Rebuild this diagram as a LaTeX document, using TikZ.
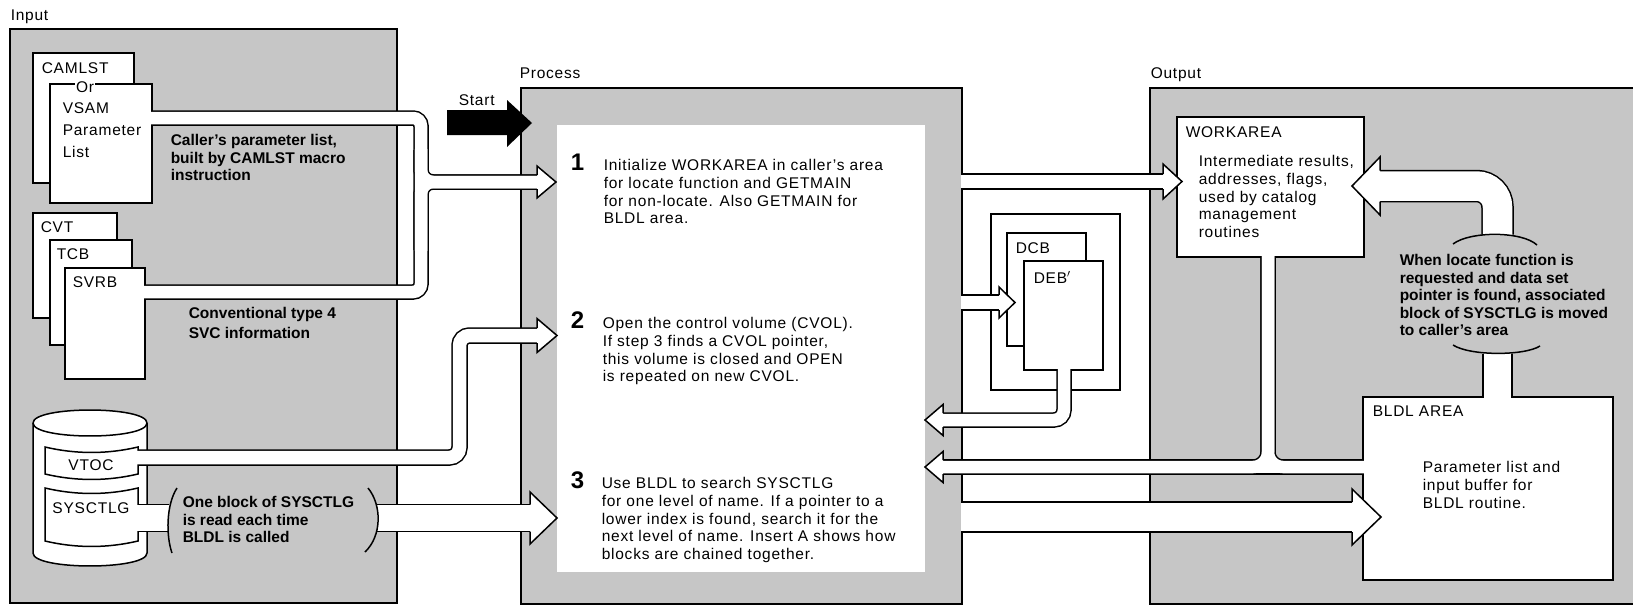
\documentclass[tikz,border=0pt]{standalone}
\usepackage{fontspec}
\setmainfont{Liberation Sans}
\newfontfamily\spc{Liberation Sans}[LetterSpace=5]
\usetikzlibrary{fit}
\definecolor{panelgray}{RGB}{198,198,198}
\newcommand\BlockHead[5]{%
  \fill[white] (#1,{#2-#4}) -- (#5,#2) -- (#1,{#2+#4}) -- cycle;
  \draw[line width=1.5pt, line join=miter] (#1,{#2-#3}) -- (#1,{#2-#4}) -- (#5,#2) -- (#1,{#2+#4}) -- (#1,{#2+#3});
}
\begin{document}
\begin{tikzpicture}[x=1pt, y=-1pt, line width=1.5pt,
  panel/.style={draw=black, fill=panelgray, line width=1.7pt, inner sep=0pt},
  paper/.style={draw=black, fill=white, line width=1.5pt, inner sep=0pt},
  lbl/.style={anchor=base west, inner sep=0pt, font=\spc\fontsize{15.5}{17.7}\selectfont},
  clbl/.style={anchor=base, inner sep=0pt, font=\spc\fontsize{15.5}{17.7}\selectfont},
  body/.style={anchor=north west, inner sep=0pt, align=left, yshift=12.39pt, font=\spc\fontsize{15.5}{17.7}\selectfont},
  note/.style={anchor=north west, inner sep=0pt, align=left, yshift=12.25pt, font=\bfseries\fontsize{15.5}{17.5}\selectfont},
  num/.style={anchor=base east, inner sep=0pt, font=\bfseries\fontsize{24}{28}\selectfont},
  pipeblack/.style={draw=black, line width={#1*1pt+1.5pt}},
  pipewhite/.style={draw=white, line width={#1*1pt-1.5pt}, shorten <=-0.9pt, shorten >=-0.9pt},
]
\fill[white] (0,0) rectangle (1633,606);
\useasboundingbox (0,0) rectangle (1633,606);

% ---------- panels ----------
\node[panel, fit={(10,29) (397,603)}] (inP) {};
\node[panel, fit={(521,88) (962,604)}] (prP) {};
\node[fill=white, inner sep=0pt, fit={(557,125) (925,572)}] (prW) {};
\node[panel, fit={(1150,88) (1648,604)}] (outP) {};

\node[lbl] (lInput) at (10,20) {Input};
\node[lbl] (lProcess) at (519,78) {Process};
\node[lbl] (lOutput) at (1150,78) {Output};
\node[lbl] (lStart) at (458,105) {Start};

% ---------- input pages ----------
\node[paper, fit={(33,53) (134,183)}] (camlst) {};
\node[paper, fit={(50,84) (152,203)}] (vsam) {};
\node[clbl, fill=white, inner sep=1.5pt] (orlbl) at (85,92) {Or};
\node[lbl] (tcam) at (41,73) {CAMLST};
\node[lbl] (tvsam) at (62,113) {VSAM};
\node[lbl] (tparam) at (62,135) {Parameter};
\node[lbl] (tlist) at (62,157) {List};

\node[paper, fit={(33,213) (117,318)}] (cvt) {};
\node[paper, fit={(50,240) (132,345)}] (tcb) {};
\node[paper, fit={(65,268) (145,379)}] (svrb) {};
\node[lbl] (tcvt) at (40,232) {CVT};
\node[lbl] (ttcb) at (56,259) {TCB};
\node[lbl] (tsvrb) at (72,287) {SVRB};

% cylinder
\draw[paper] (33,423) -- (33,553) .. controls (33,570.3) and (147,570.3) .. (147,553) -- (147,423) .. controls (147,405.7) and (33,405.7) .. (33,423) -- cycle;
\draw (33,423) .. controls (33,440.3) and (147,440.3) .. (147,423);
\draw[paper] (45,447) .. controls (76,454.3) and (107,454.3) .. (138,447) -- (138,474) .. controls (107,481.3) and (76,481.3) .. (45,474) -- cycle;
\draw[paper] (45,488) .. controls (76,495.3) and (107,495.3) .. (138,488) -- (138,541) .. controls (107,548.3) and (76,548.3) .. (45,541) -- cycle;
\node[clbl] (tvtoc) at (91,470) {VTOC};
\node[clbl] (tsysctlg) at (91,513) {SYSCTLG};

% ---------- DCB / DEB ----------
\node[paper, fit={(991,214) (1120,390)}] (dcbbox) {};
\node[paper, fit={(1007,233) (1086,346)}] (dcb) {};
\node[paper, fit={(1024,261) (1103,370)}] (deb) {};
\node[lbl] (tdcb) at (1015,253) {DCB};
\node[lbl] (tdeb) at (1033,283) {DEB$'$};

% ---------- output boxes ----------
\node[paper, fit={(1177,117) (1364,257)}] (work) {};
\node[paper, fit={(1363,397) (1613,580)}] (bldl) {};
\node[lbl] (twork) at (1185,137) {WORKAREA};
\node[lbl] (tbldl) at (1372,416) {BLDL AREA};

% ---------- pipe coordinates ----------
\coordinate (p1a) at (152,118); \coordinate (p1b) at (421,118);
\coordinate (p1c) at (421,292); \coordinate (p1d) at (145,292);
\coordinate (p1j) at (421,182); \coordinate (p1e) at (537,182);
\coordinate (p1u) at (421,150); \coordinate (p1l) at (421,250);

\coordinate (p2a) at (138,457.5); \coordinate (p2b) at (459.5,457.5);
\coordinate (p2c) at (459.5,335.5); \coordinate (p2d) at (537,335.5);

\coordinate (p3a) at (138,518); \coordinate (p3b) at (169,518);
\coordinate (p3c) at (377,518); \coordinate (p3d) at (530,518);

\coordinate (p4a) at (962,181.5); \coordinate (p4b) at (1163,181.5);
\coordinate (p5a) at (962,302.5); \coordinate (p5b) at (999,302.5);
\coordinate (p6a) at (1064,370); \coordinate (p6b) at (1064,420); \coordinate (p6c) at (943,420);
\coordinate (p7a) at (1363,467); \coordinate (p7b) at (943,467);
\coordinate (p7t) at (1268,257); \coordinate (p7j) at (1268,467);
\coordinate (p8a) at (962,517); \coordinate (p8b) at (1352,517);
\coordinate (p9a) at (1497.5,397); \coordinate (p9b) at (1497.5,353.5);
\coordinate (p10a) at (1380,186); \coordinate (p10b) at (1497.5,186); \coordinate (p10c) at (1497.5,234.5);

% ---------- pipes: black borders ----------
\draw[pipeblack=14, rounded corners=8pt] (p1a) -- (p1b) -- (p1c) -- (p1d);
\draw[pipeblack=14, rounded corners=12pt] (p1u) -- (p1j) -- (p1e);
\draw[pipeblack=14, rounded corners=12pt] (p1l) -- (p1j) -- (p1e);
\draw[pipeblack=15, rounded corners=10pt] (p2a) -- (p2b) -- (p2c) -- (p2d);
\draw[pipeblack=27] (p3a) -- (p3b);
\draw[pipeblack=27] (p3c) -- (p3d);
\draw[pipeblack=15] (p4a) -- (p4b);
\draw[pipeblack=15] (p5a) -- (p5b);
\draw[pipeblack=14, rounded corners=10pt] (p6a) -- (p6b) -- (p6c);
\draw[pipeblack=14] (p7a) -- (p7b);
\draw[pipeblack=14, rounded corners=15pt] (p7t) -- (p7j) -- (p7b);
\draw[pipeblack=14, rounded corners=15pt] (p7t) -- (p7j) -- (p7a);
\draw[pipeblack=30] (p8a) -- (p8b);
\draw[pipeblack=29] (p9a) -- (p9b);
\draw[pipeblack=31, rounded corners=21pt] (p10a) -- (p10b) -- (p10c);

% ---------- pipes: white interiors ----------
\draw[pipewhite=14, rounded corners=8pt] (p1a) -- (p1b) -- (p1c) -- (p1d);
\draw[pipewhite=14, rounded corners=12pt] (p1u) -- (p1j) -- (p1e);
\draw[pipewhite=14, rounded corners=12pt] (p1l) -- (p1j) -- (p1e);
\draw[pipewhite=15, rounded corners=10pt] (p2a) -- (p2b) -- (p2c) -- (p2d);
\draw[pipewhite=27, shorten >=0pt] (p3a) -- (p3b);
\draw[pipewhite=27, shorten <=0pt] (p3c) -- (p3d);
\draw[pipewhite=15] (p4a) -- (p4b);
\draw[pipewhite=15] (p5a) -- (p5b);
\draw[pipewhite=14, rounded corners=10pt] (p6a) -- (p6b) -- (p6c);
\draw[pipewhite=14] (p7a) -- (p7b);
\draw[pipewhite=14, rounded corners=15pt] (p7t) -- (p7j) -- (p7b);
\draw[pipewhite=14, rounded corners=15pt] (p7t) -- (p7j) -- (p7a);
\draw[pipewhite=30] (p8a) -- (p8b);
\draw[pipewhite=29] (p9a) -- (p9b);
\draw[pipewhite=31, rounded corners=21pt] (p10a) -- (p10b) -- (p10c);

% ---------- arrow heads ----------
\BlockHead{537}{182}{7}{16}{556}
\BlockHead{537}{335.5}{7.5}{17}{557}
\BlockHead{530}{518}{13.5}{26}{557}
\BlockHead{1163}{181.5}{7.5}{17.5}{1182}
\BlockHead{999}{302.5}{7.5}{15.5}{1015}
\BlockHead{943}{420}{7}{15.5}{925}
\BlockHead{943}{467}{7}{15.5}{925}
\BlockHead{1352}{517}{15}{28}{1381}
\BlockHead{1380}{186}{15.5}{29}{1352}

% ---------- brackets ----------
\draw (177,488) .. controls (166,505) and (166,536) .. (172,553);
\draw (368,488) .. controls (382,505) and (382,536) .. (365,552);
\draw (1453,244) .. controls (1470,231) and (1522,231) .. (1537,245);
\draw (1453,345) .. controls (1470,356) and (1524,356) .. (1540,346);

% ---------- texts ----------
\node[note] (ncaller) at (170,145) {\strut Caller’s parameter list,\\built by CAMLST macro\\instruction};
\node[note] (nconv) at (188,318) {\strut Conventional type 4\\[2.5pt]SVC information};
\node[note] (nblock) at (182,507) {\strut One block of SYSCTLG\\is read each time\\BLDL is called};

\node[num] (n1) at (585,170) {1};
\node[body] (s1) at (603,170) {\strut Initialize WORKAREA in caller’s area\\for locate function and GETMAIN\\for non-locate. Also GETMAIN for\\BLDL area.};
\node[num] (n2) at (585,328) {2};
\node[body] (s2) at (602,328) {\strut Open the control volume (CVOL).\\If step 3 finds a CVOL pointer,\\this volume is closed and OPEN\\is repeated on new CVOL.};
\node[num] (n3) at (585,488) {3};
\node[body] (s3) at (601,488) {\strut Use BLDL to search SYSCTLG\\for one level of name. If a pointer to a\\lower index is found, search it for the\\next level of name. Insert A shows how\\blocks are chained together.};

\node[body] (wtext) at (1198,166) {\strut Intermediate results,\\addresses, flags,\\used by catalog\\management\\routines};
\node[note] (nlocate) at (1399,265) {\strut When locate function is\\requested and data set\\pointer is found, associated\\block of SYSCTLG is moved\\to caller’s area};
\node[body] (btext) at (1422,472) {\strut Parameter list and\\input buffer for\\BLDL routine.};

% ---------- start arrow ----------
\fill[black] (447,110) -- (507,110) -- (507,100) -- (532,123) -- (507,147) -- (507,135) -- (447,135) -- cycle;
\end{tikzpicture}
\end{document}
